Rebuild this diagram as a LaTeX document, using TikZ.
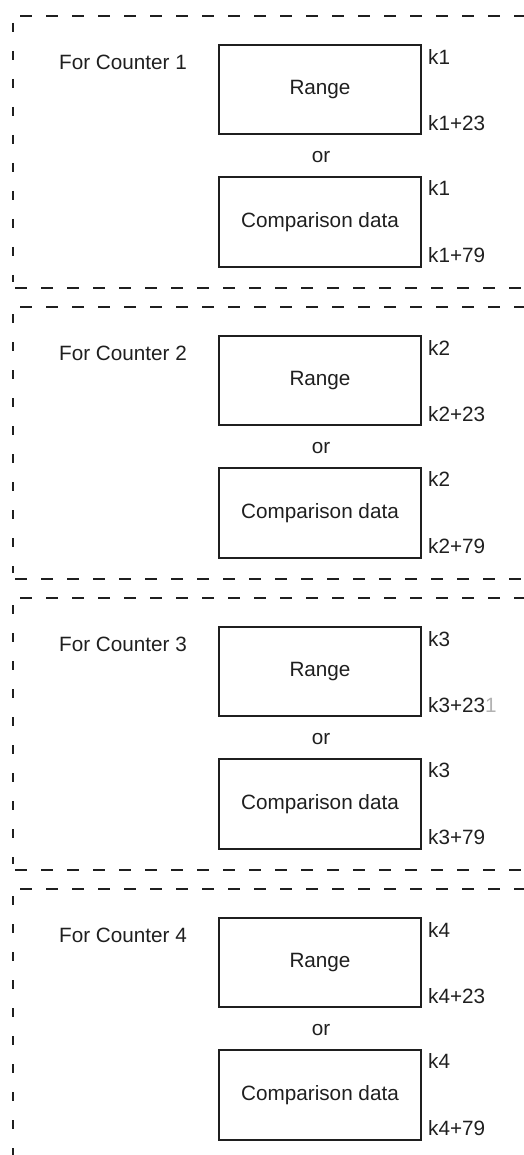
\documentclass[tikz,border=0pt]{standalone}
\usepackage{fontspec}
\setmainfont{Liberation Sans}
\begin{document}
\begin{tikzpicture}[x=1pt,y=-1pt,
  ink/.style={color=black!88},
  hdash/.style={ink,line width=1.8pt,dash pattern=on 12pt off 14pt},
  vdash/.style={ink,line width=1.8pt,dash pattern=on 9pt off 19pt},
  databox/.style={draw,ink,line width=1.6pt,minimum width=202pt,inner sep=0pt,font=\fontsize{20.7}{24}\selectfont},
  lbl/.style={ink,inner sep=0pt,font=\fontsize{20.7}{24}\selectfont},
  klbl/.style={lbl,anchor=west}]
\useasboundingbox (0,0) rectangle (524,1155);
\foreach \i [evaluate=\i as \T using 16+291*(\i-1)] in {1,2,3,4}{
  \coordinate (tl\i) at (20,\T);
  \coordinate (tr\i) at (524,\T);
  \draw[hdash] (tl\i) -- (tr\i);
  \coordinate (lt\i) at (13,\T+7);
  \ifnum\i<4
    \coordinate (lb\i) at (13,\T+266);
    \coordinate (bl\i) at (15,\T+272);
    \coordinate (br\i) at (524,\T+272);
    \draw[hdash] (bl\i) -- (br\i);
  \else
    \coordinate (lb\i) at (13,1155);
  \fi
  \draw[vdash] (lt\i) -- (lb\i);
  \node[lbl] (fc\i) at (123,\T+46) {For Counter \i};
  \node[databox,minimum height=89pt] (rg\i) at (320,\T+73.5) {Range};
  \node[lbl] (or\i) at (321,\T+141) {or};
  \node[databox,minimum height=90pt] (cd\i) at (320,\T+206) {Comparison data};
  \node[klbl] (ka\i) at (428,\T+41) {k\i};
  \ifnum\i=3
    \node[klbl] (kb\i) at (428,\T+107) {k\i+23{\color{black!30}1}};
  \else
    \node[klbl] (kb\i) at (428,\T+107) {k\i+23};
  \fi
  \node[klbl] (kc\i) at (428,\T+172) {k\i};
  \node[klbl] (kd\i) at (428,\T+239) {k\i+79};
}
\end{tikzpicture}
\end{document}
